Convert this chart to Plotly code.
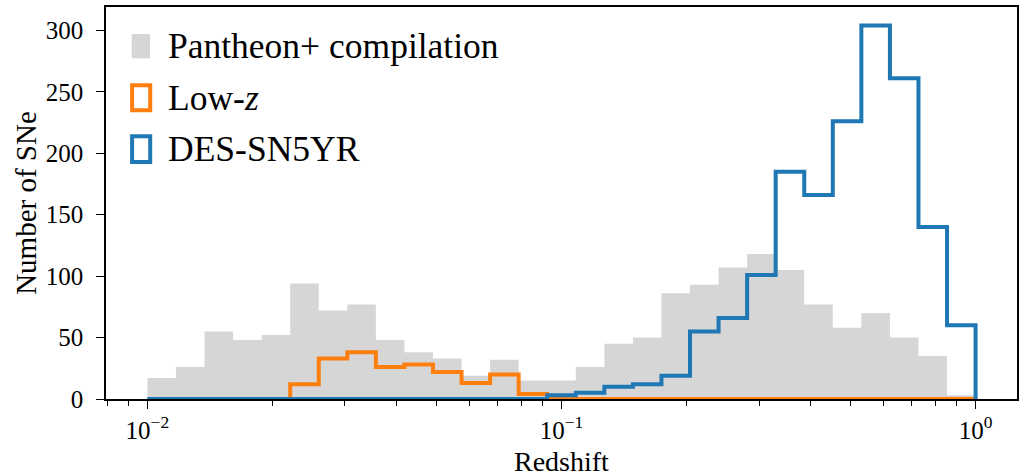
import numpy as np
import plotly.graph_objects as go

# Redshift binning: 29 log-spaced bins between z = 0.01 and z = 1
bin_edges = np.logspace(-2, 0, 30)

# Counts per bin
pantheon_counts = [17, 26, 55, 48, 52, 94, 72, 77, 48, 38, 33, 19, 32, 15, 15,
                   26, 45, 50, 86, 93, 107, 118, 105, 77, 58, 70, 50, 35, 3]
lowz_counts = [0, 0, 0, 0, 0, 12, 33, 38, 26, 28, 22, 13, 20, 4, 0,
               0, 0, 0, 0, 0, 0, 0, 0, 0, 0, 0, 0, 0, 0]
des_counts = [0, 0, 0, 0, 0, 0, 0, 0, 0, 0, 0, 0, 0, 0, 3,
              5, 10, 12, 19, 55, 66, 101, 185, 166, 226, 304, 261, 140, 60]

series_names = ["Pantheon+ compilation", "Low-<i>z</i>", "DES-SN5YR"]
x_label = "Redshift"
y_label = "Number of SNe"
gray_fill = "#d6d6d6"
orange = "#ff7f0e"
blue = "#1f77b4"

FONT = "Liberation Serif, DejaVu Serif, serif"
W, H = 1026, 473
M_L, M_R, M_T, M_B = 106, 9, 7, 74


def step_outline(edges, counts):
    """Outline of a step histogram: up at the first edge, down at the last."""
    edges = list(edges)
    counts = list(counts)
    xs = [edges[0]] + edges + [edges[-1]]
    ys = [0] + counts + [counts[-1], 0]
    return xs, ys


fig = go.Figure()

# Filled histogram
fx = list(bin_edges)
fy = list(pantheon_counts) + [pantheon_counts[-1]]
fig.add_trace(go.Scatter(
    x=fx, y=fy, mode="lines", line=dict(shape="hv", width=0, color=gray_fill),
    fill="tozeroy", fillcolor=gray_fill, name=series_names[0], showlegend=False,
    hoverinfo="skip"))

# Step outlines
for counts, color, name in [(lowz_counts, orange, series_names[1]),
                            (des_counts, blue, series_names[2])]:
    sx, sy = step_outline(bin_edges, counts)
    fig.add_trace(go.Scatter(
        x=sx, y=sy, mode="lines", line=dict(shape="hv", width=4, color=color),
        name=name, showlegend=False, hoverinfo="skip"))

# Legend drawn as patches + labels in pixel units of the plot area
pw, ph = W - M_L - M_R, H - M_T - M_B


def px_x(p):
    return (p - M_L) / pw


def px_y(p):
    return (H - M_B - p) / ph


shapes = [
    dict(type="rect", xref="paper", yref="paper",
         x0=px_x(131.7), x1=px_x(150), y0=px_y(58.3), y1=px_y(34),
         fillcolor=gray_fill, line=dict(width=0)),
    dict(type="rect", xref="paper", yref="paper",
         x0=px_x(132.1), x1=px_x(150.2), y0=px_y(110.3), y1=px_y(85.3),
         fillcolor="rgba(0,0,0,0)", line=dict(width=4, color=orange)),
    dict(type="rect", xref="paper", yref="paper",
         x0=px_x(132.1), x1=px_x(150.2), y0=px_y(162), y1=px_y(136.3),
         fillcolor="rgba(0,0,0,0)", line=dict(width=4, color=blue)),
]
annotations = []
for name, cy in zip(series_names, [46, 98, 149]):
    annotations.append(dict(
        text=name, xref="paper", yref="paper", x=px_x(166), y=px_y(cy),
        xanchor="left", yanchor="middle", showarrow=False,
        font=dict(family=FONT, size=35.5, color="black")))

# x-axis label near the lower edge of the page
annotations.append(dict(
    text=x_label, xref="paper", yref="paper", x=0.5, y=px_y(444),
    xanchor="center", yanchor="top", showarrow=False,
    font=dict(family=FONT, size=28, color="black")))

major_vals = [0.01, 0.1, 1]
major_text = ["10<sup>\u22122</sup>", "10<sup>\u22121</sup>", "10<sup>0</sup>"]
minor_vals = [m * 10.0 ** d for d in (-3, -2, -1) for m in range(2, 10)]

fig.update_layout(
    width=W, height=H,
    margin=dict(l=M_L, r=M_R, t=M_T, b=M_B, autoexpand=False),
    paper_bgcolor="white", plot_bgcolor="white",
    font=dict(family=FONT, size=24, color="black"),
    shapes=shapes, annotations=annotations,
    xaxis=dict(
        type="log", range=[-2.1, 0.1], automargin=False,
        tickmode="array", tickvals=major_vals, ticktext=major_text,
        ticks="outside", ticklen=8, tickwidth=1.3, tickcolor="black",
        minor=dict(tickmode="array", tickvals=minor_vals, ticks="outside",
                   ticklen=5, tickwidth=1.1, tickcolor="black", showgrid=False),
        showline=True, linecolor="black", linewidth=1.5, mirror=True,
        showgrid=False, zeroline=False,
        tickfont=dict(family=FONT, size=25),
        ticklabelstandoff=0,
    ),
    yaxis=dict(
        range=[0, 319], automargin=False,
        tickmode="array", tickvals=[0, 50, 100, 150, 200, 250, 300],
        ticks="outside", ticklen=8, tickwidth=1.3, tickcolor="black",
        showline=True, linecolor="black", linewidth=1.5, mirror=True,
        showgrid=False, zeroline=False,
        tickfont=dict(family=FONT, size=25),
        ticklabelstandoff=8,
        title=dict(text=y_label, font=dict(family=FONT, size=29), standoff=1),
    ),
)

fig.write_html("out.html")
